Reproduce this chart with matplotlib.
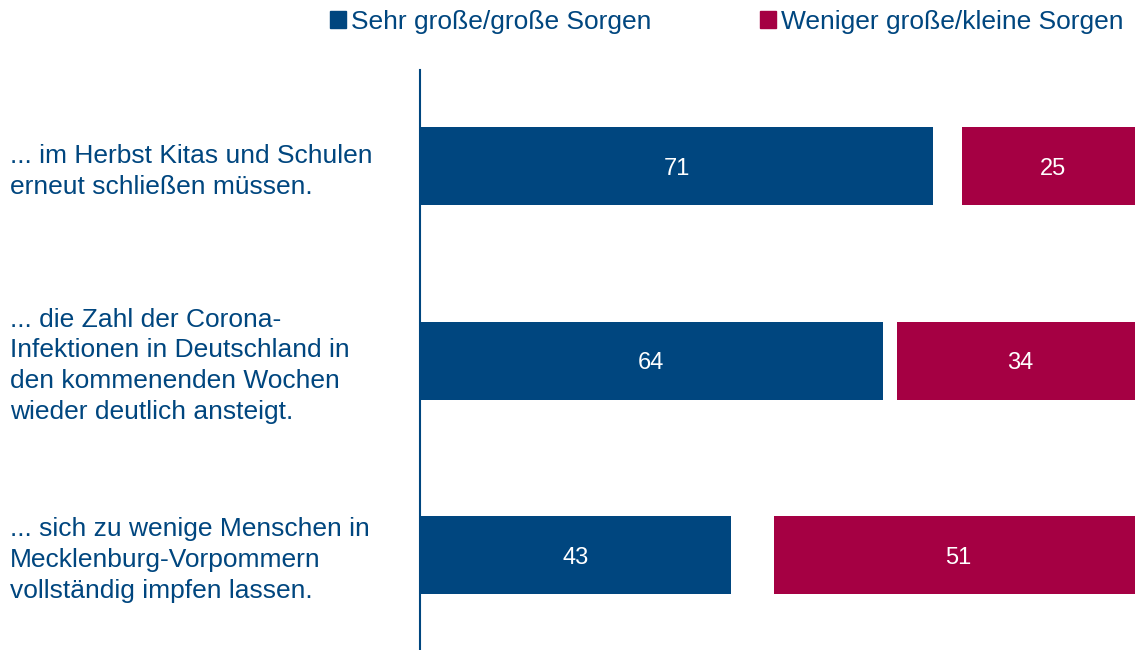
import matplotlib.pyplot as plt
from matplotlib.patches import Patch
from matplotlib.transforms import blended_transform_factory

plt.rcParams['font.family'] = ['Liberation Sans', 'DejaVu Sans']

# Sorgen, dass ...
labels = [
    '... im Herbst Kitas und Schulen\nerneut schließen müssen.',
    '... die Zahl der Corona-\nInfektionen in Deutschland in\nden kommenenden Wochen\nwieder deutlich ansteigt.',
    '... sich zu wenige Menschen in\nMecklenburg-Vorpommern\nvollständig impfen lassen.',
]
grosse_sorgen = [71, 64, 43]
kleine_sorgen = [25, 34, 51]
series_names = ['Sehr große/große Sorgen', 'Weniger große/kleine Sorgen']

blue = '#00467f'
red = '#a50043'
text_col = '#00467f'

fig = plt.figure(figsize=(11.35, 6.5), dpi=100)
ax = fig.add_axes([420 / 1135, 0, 1 - 420 / 1135, 580 / 650])

ypos = list(range(len(labels)))
h = 0.401
ax.barh(ypos, grosse_sorgen, height=h, color=blue)
# red part is right-aligned at 100, the gap in between is "weiß nicht"
red_left = [100 - v for v in kleine_sorgen]
ax.barh(ypos, kleine_sorgen, left=red_left, height=h, color=red)

for y, b, r, rl in zip(ypos, grosse_sorgen, kleine_sorgen, red_left):
    ax.text(b / 2, y, str(b), ha='center', va='center_baseline', color='white', fontsize=17)
    ax.text(rl + r / 2, y, str(r), ha='center', va='center_baseline', color='white', fontsize=17)

ax.set_xlim(0, 715 / 7.23)
ax.set_ylim(2.486, -0.496)

for s in ['top', 'right', 'bottom']:
    ax.spines[s].set_visible(False)
ax.spines['left'].set_color(blue)
ax.spines['left'].set_linewidth(1.5)
ax.set_xticks([])
ax.set_yticks([])

trans = blended_transform_factory(fig.transFigure, ax.transData)
for y, lab in zip(ypos, labels):
    ax.text(10 / 1135, y + 0.025, lab, transform=trans, ha='left', va='center',
            fontsize=19, color=text_col, linespacing=1.36)

handles = [Patch(color=blue), Patch(color=red)]
fig.legend(handles, series_names, loc='center left',
           bbox_to_anchor=(330 / 1135, 1 - 22 / 650), ncol=2, frameon=False,
           fontsize=19, labelcolor=text_col, handlelength=0.6, handleheight=0.6,
           handletextpad=0.2, columnspacing=4.1, borderpad=0, borderaxespad=0)

fig.savefig('out.png', dpi=100)
